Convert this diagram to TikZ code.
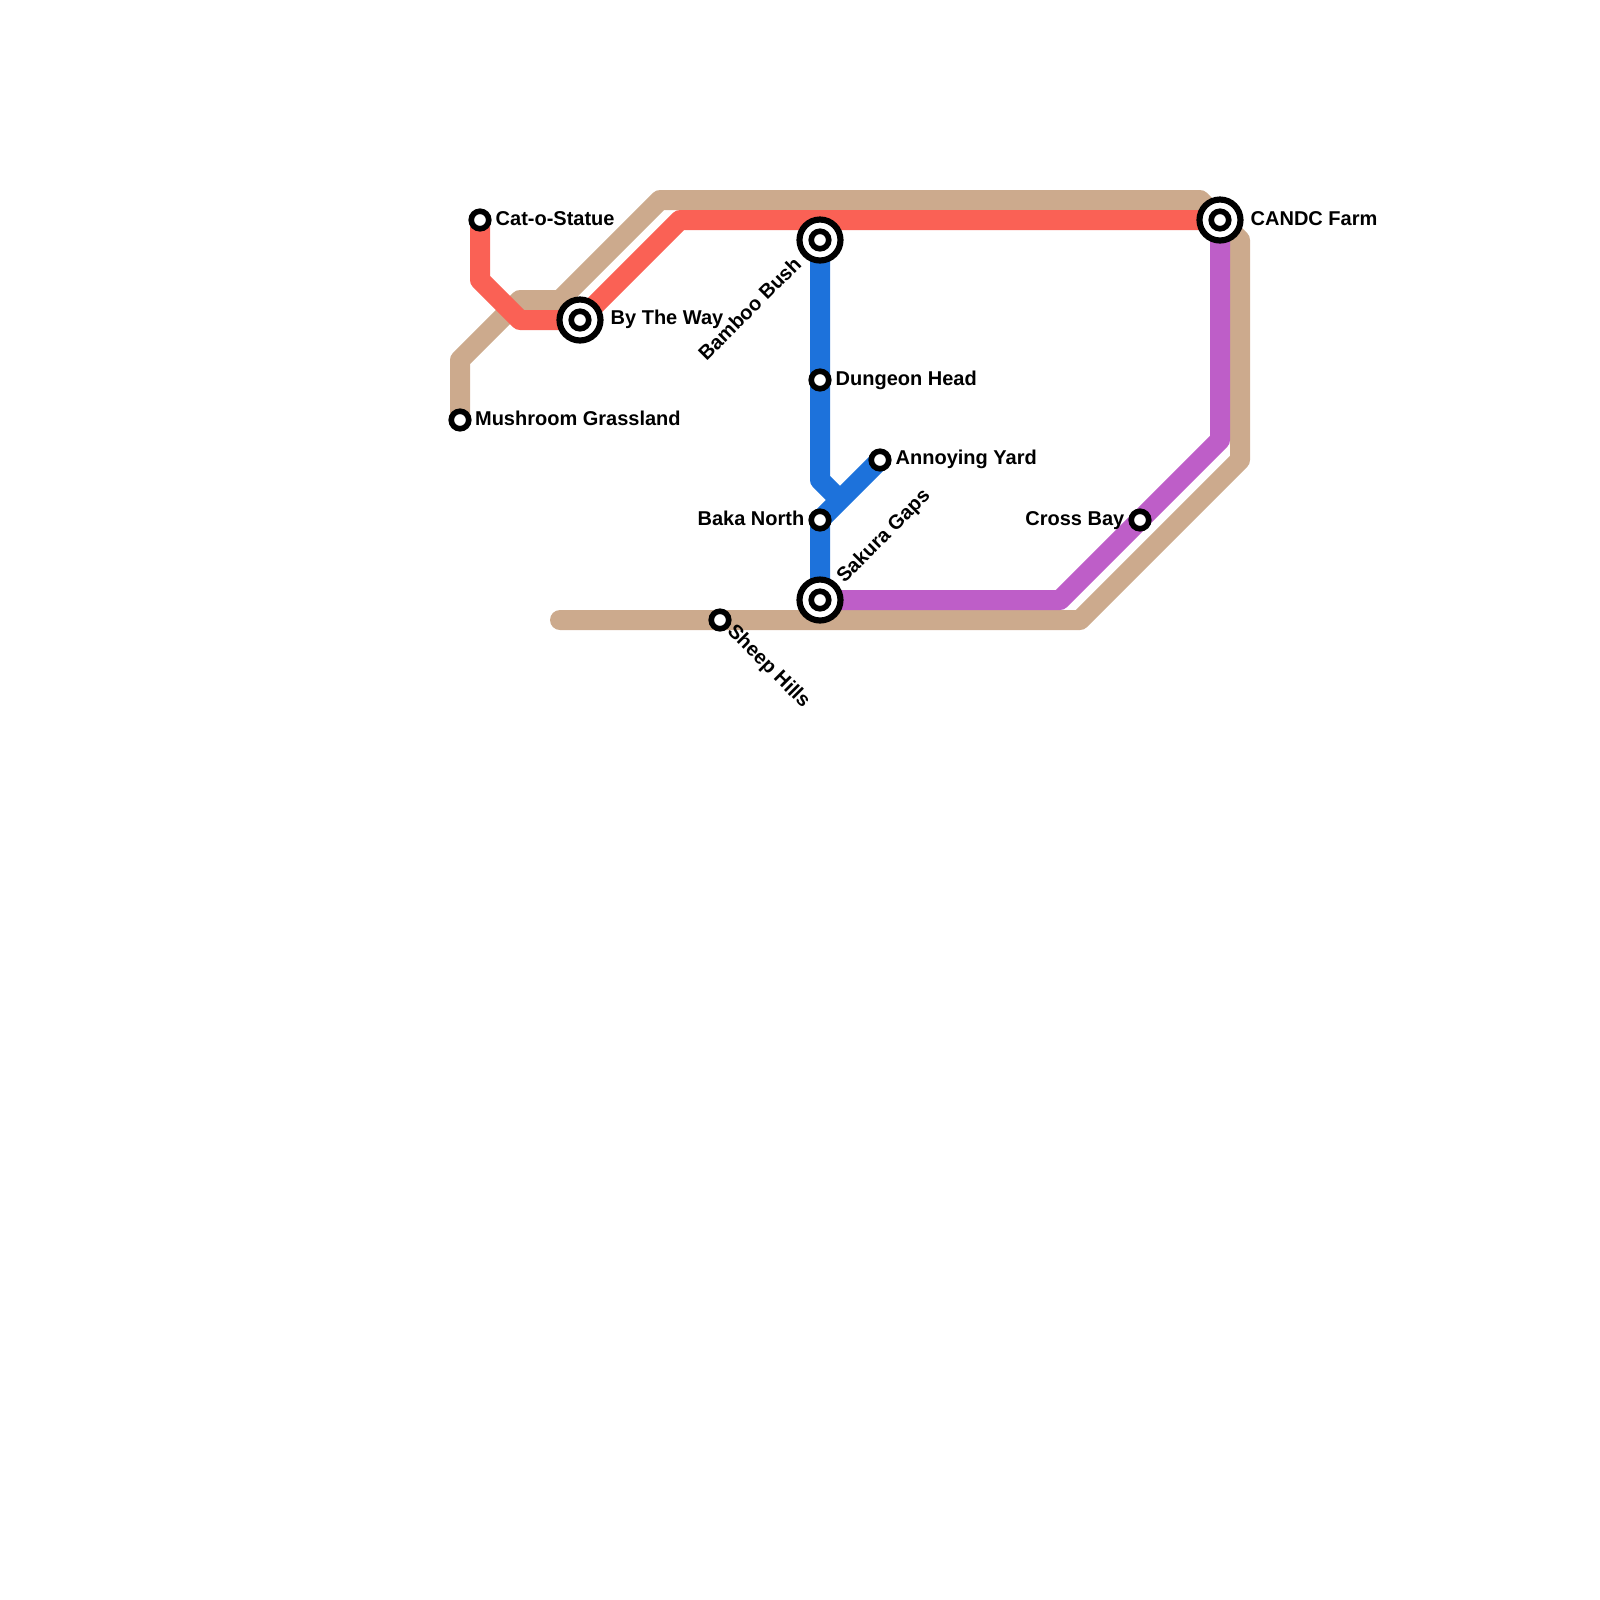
\documentclass[tikz,border=0pt]{standalone}
\usepackage{fontspec}
\setmainfont{Liberation Sans}
\usetikzlibrary{backgrounds}
\definecolor{tanline}{RGB}{204,170,141}
\definecolor{redline}{RGB}{250,97,85}
\definecolor{blueline}{RGB}{29,114,219}
\definecolor{purpleline}{RGB}{190,94,200}
\tikzset{
    % route lines
    route/.style={line width=5.69pt, line join=round},
    stop/.style={circle, draw=black, fill=white, line width=1.6pt, minimum size=0.175cm, inner sep=0pt},
    hub/.style={circle, draw=black, fill=white, line width=1.75pt, minimum size=0.41cm, inner sep=0pt},
    stoplabel/.style={font=\bfseries\fontsize{5.69pt}{6.5pt}\selectfont, inner sep=0pt, text=black}
}
\begin{document}
\begin{tikzpicture}[x=0.2cm, y=-0.2cm]
	\useasboundingbox (0,0) rectangle (80,80);

	\node [hub] (bamboo) at (41,12) {};
	\node [hub] (sakura) at (41,30) {};
	\node [hub] (byway) at (29,16) {};
	\node [hub] (candc) at (61,11) {};
	\foreach \hubname in {bamboo,sakura,byway,candc}
		\node [stop] at (\hubname) {};
	\node [stop] (cat) at (24,11) {};
	\node [stop] (mushroom) at (23,21) {};
	\node [stop] (dungeon) at (41,19) {};
	\node [stop] (annoying) at (44,23) {};
	\node [stop] (baka) at (41,26) {};
	\node [stop] (sheep) at (36,31) {};
	\node [stop] (cross) at (57,26) {};
	\coordinate (tanend) at (28,31);

	\begin{scope}[on background layer]
	\draw[route, tanline, line cap=round] (mushroom.center) -- (23,18) -- (26,15) -- (28,15) -- (33,10) -- (60,10) -- (62,12) -- (62,23) -- (54,31) -- (tanend);
	\draw[route, redline] (cat.center) -- (24,14) -- (26,16) -- (byway.center) -- (34,11) -- (candc.center);
	\draw[route, purpleline] (sakura.center) -- (53,30) -- (61,22) -- (candc.center);
	\draw[route, blueline] (bamboo.center) -- (41,24) -- (42,25);
	\draw[route, blueline] (annoying.center) -- (baka.center) -- (sakura.center);
	\end{scope}

	\node [stoplabel, anchor=base west] (catname) at (24.75,11.25) {Cat-o-Statue};
	\node [stoplabel, anchor=base west] (mushroomname) at (23.72,21.25) {Mushroom Grassland};
	\node [stoplabel, anchor=base west] (bywayname) at (30.5,16.22) {By The Way};
	\node [stoplabel, anchor=base west] (dungeonname) at (41.75,19.25) {Dungeon Head};
	\node [stoplabel, anchor=base west] (annoyingname) at (44.75,23.22) {Annoying Yard};
	\node [stoplabel, anchor=base east] (bakaname) at (40.25,26.25) {Baka North};
	\node [stoplabel, anchor=base east] (crossname) at (56.25,26.25) {Cross Bay};
	\node [stoplabel, anchor=base west] (candcname) at (62.5,11.25) {CANDC Farm};
	\node [stoplabel, anchor=base east, rotate=45] (bambooname) at (40.15,13.25) {Bamboo Bush};
	\node [stoplabel, anchor=base west, rotate=45] (sakuraname) at (42.2,29.2) {Sakura Gaps};
	\node [stoplabel, anchor=base west, rotate=-45] (sheepname) at (36.3,31.6) {Sheep Hills};
\end{tikzpicture}
\end{document}
